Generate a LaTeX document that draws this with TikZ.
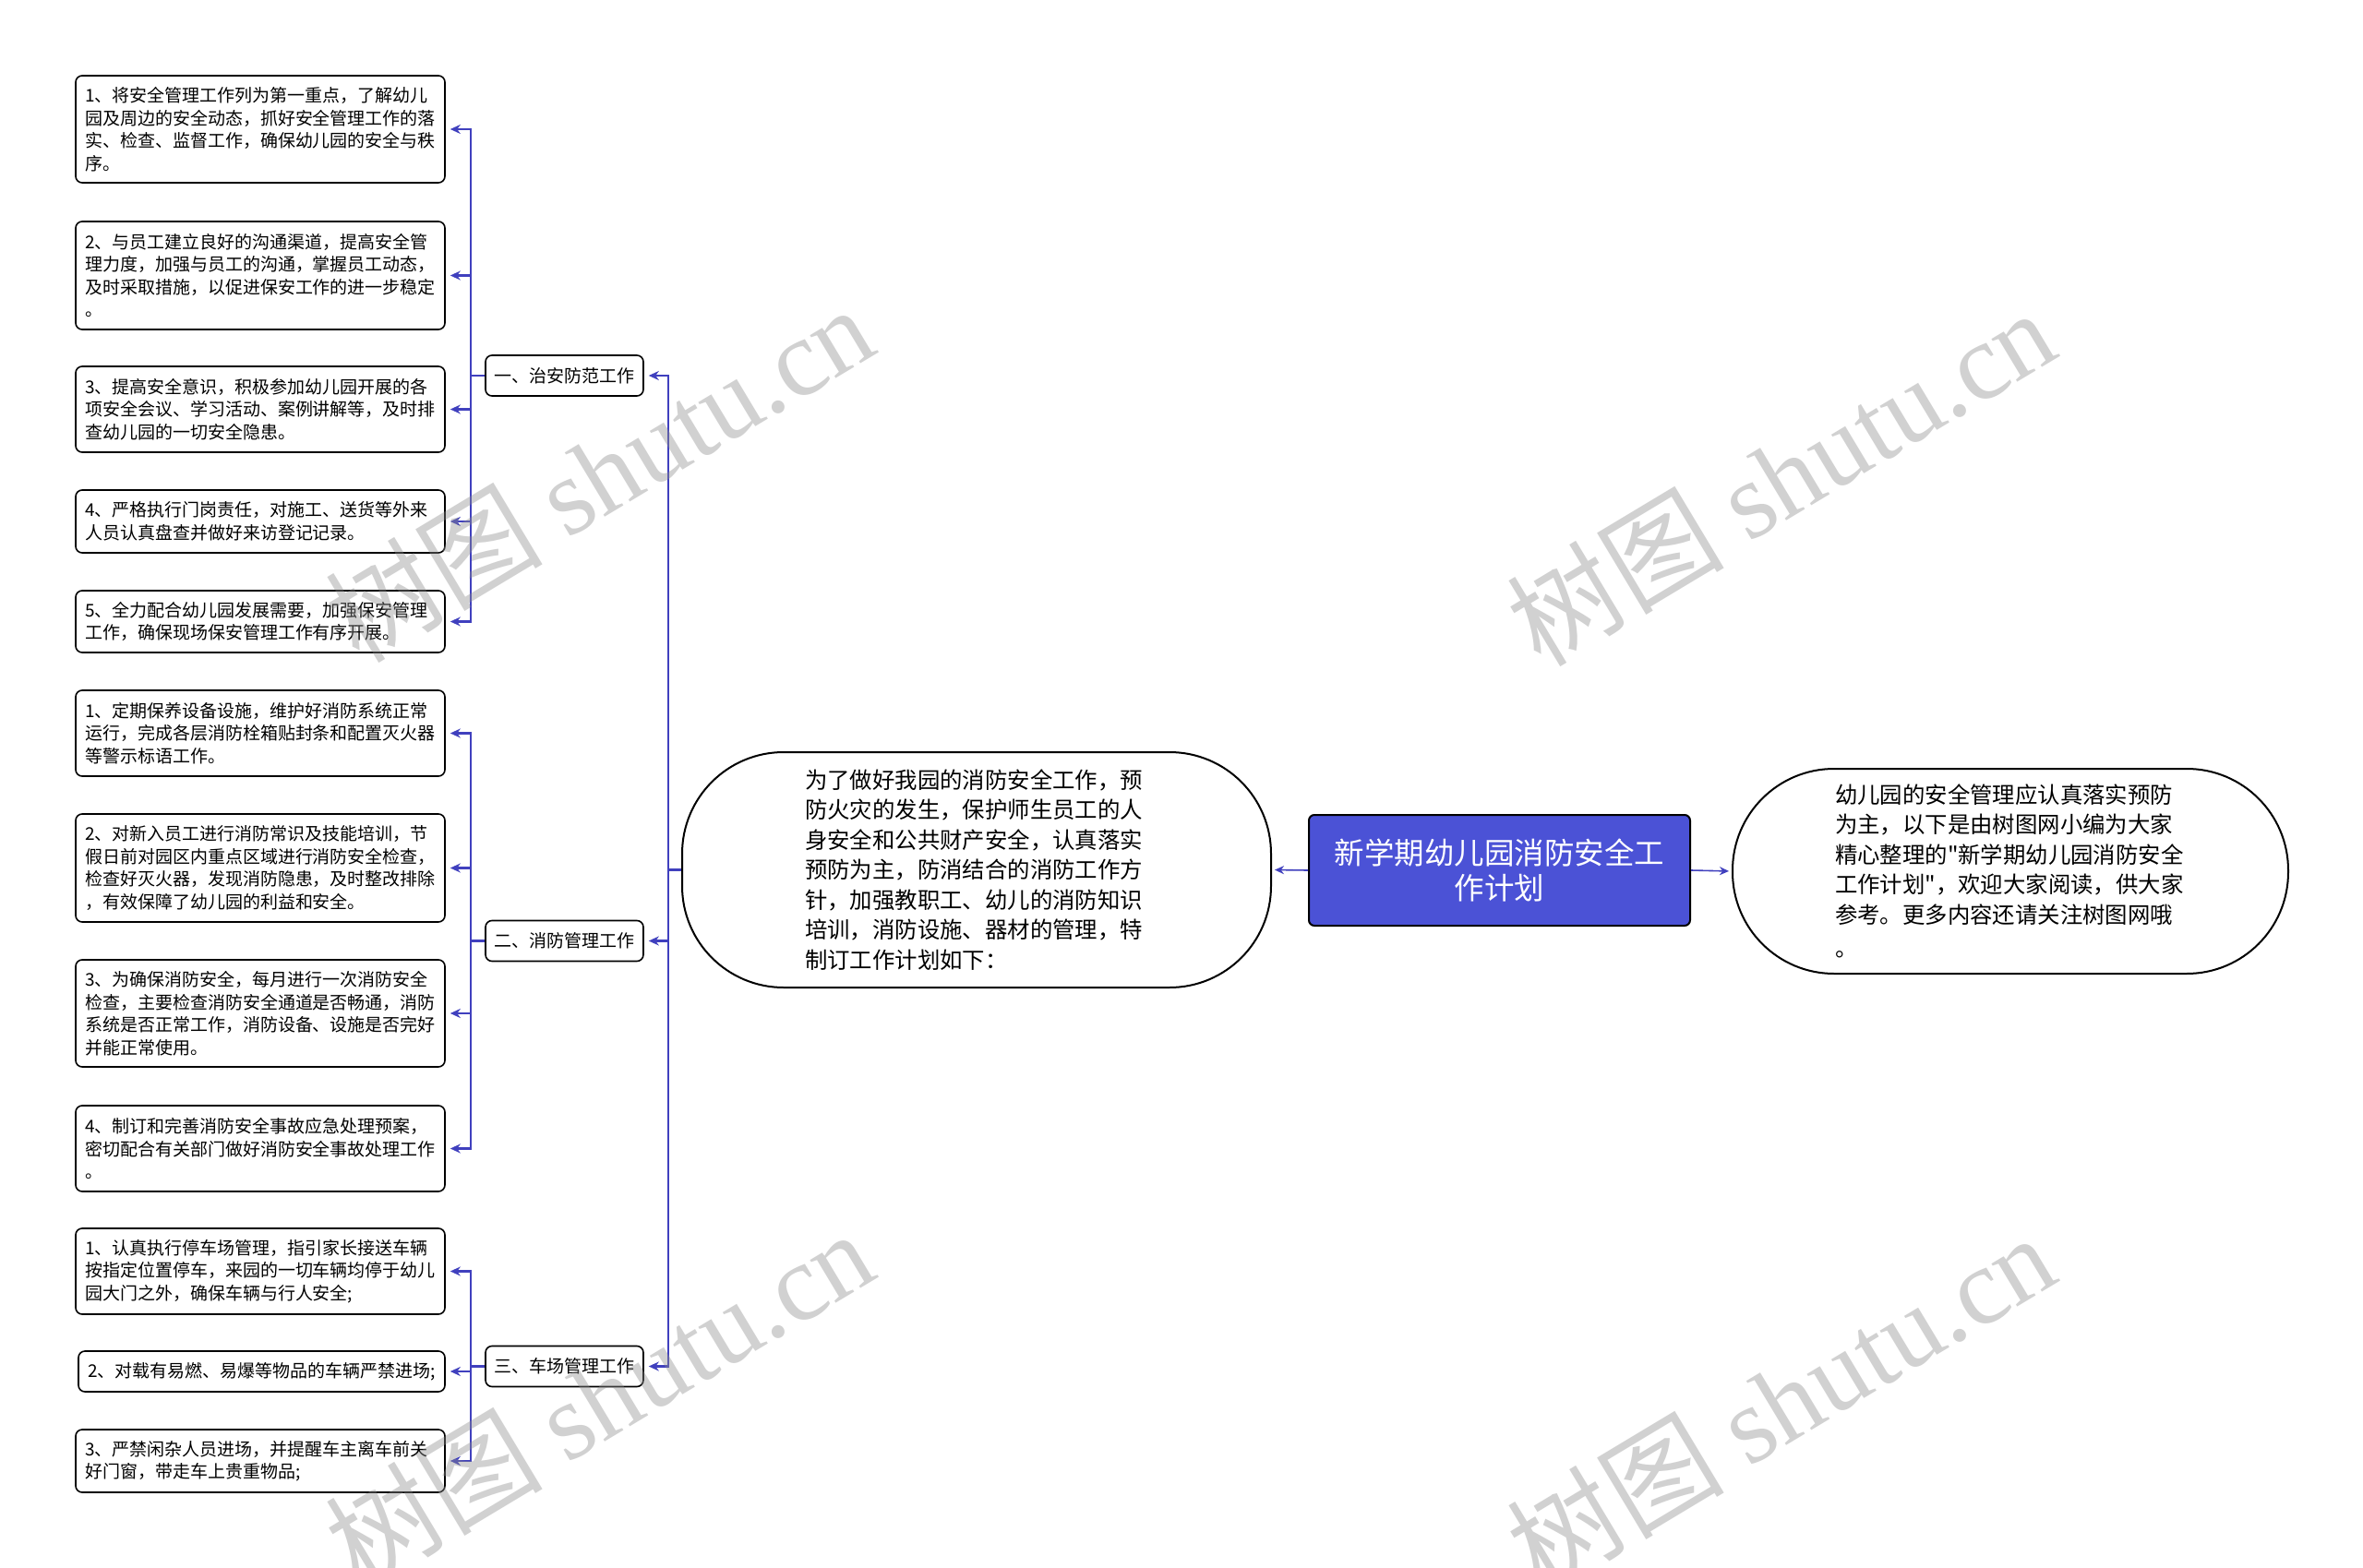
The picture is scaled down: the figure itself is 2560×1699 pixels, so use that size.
\documentclass[tikz,border=0pt]{standalone}
\usepackage{fontspec}
\setmainfont{Noto Sans CJK SC}[Ligatures=TeXOff]
\newfontfamily\wmlatin{Liberation Serif}
\newfontfamily\wmcjk{Noto Sans CJK SC}
\usetikzlibrary{arrows.meta}
\definecolor{connblue}{RGB}{64,64,190}
\definecolor{rootblue}{RGB}{75,82,214}
\tikzset{
  leaf/.style={draw=black, line width=1.6pt, rounded corners=7pt, fill=white,
    text width=380pt, align=left, inner xsep=10pt, inner ysep=0pt,
    font=\fontsize{19pt}{24.5pt}\selectfont, anchor=center},
  branch/.style={draw=black, line width=1.6pt, rounded corners=7pt, fill=white,
    minimum width=171pt, minimum height=44pt, inner sep=0pt,
    font=\fontsize{19pt}{24.5pt}\selectfont},
  bubble/.style={draw=black, line width=2pt, rounded corners=110pt, fill=white,
    text width=372pt, align=left, inner sep=0pt,
    font=\fontsize{24.4pt}{32.5pt}\selectfont},
  rootbox/.style={draw=black, line width=2pt, rounded corners=6pt, fill=rootblue,
    text=white, align=center, minimum width=413pt, minimum height=120pt, inner sep=0pt,
    font=\fontsize{32.5pt}{38pt}\selectfont},
  link/.style={draw=connblue, line width=2.2pt},
  arr/.style={link, -{Stealth[length=11pt,width=10pt]}, shorten >=5pt},
  rarr/.style={draw=connblue, line width=1.6pt, -{Stealth[length=10pt,width=9pt]}, shorten >=3pt},
  wm/.style={rotate=31, text=black!45, text opacity=0.4, inner sep=0pt,
    font=\fontsize{118pt}{118pt}\selectfont}
}
\begin{document}
\begin{tikzpicture}[x=1pt,y=-1pt]
\fill[white] (0,0) rectangle (2560,1699);
\useasboundingbox (0,0) rectangle (2560,1699);

% root and top-level nodes
\node[rootbox] (root) at (1624.5,943) {新学期幼儿园消防安全工\\作计划};
\node[bubble, minimum width=638pt, minimum height=255pt] (intro) at (1058,942.5)
 {为了做好我园的消防安全工作，预\\防火灾的发生，保护师生员工的人\\身安全和公共财产安全，认真落实\\预防为主，防消结合的消防工作方\\针，加强教职工、幼儿的消防知识\\培训，消防设施、器材的管理，特\\制订工作计划如下：};
\node[bubble, minimum width=602pt, minimum height=222pt, text width=380pt] (desc) at (2178,944)
 {幼儿园的安全管理应认真落实预防\\为主，以下是由树图网小编为大家\\精心整理的"新学期幼儿园消防安全\\工作计划"，欢迎大家阅读，供大家\\参考。更多内容还请关注树图网哦\\[4pt]。};

% branch nodes
\node[branch] (b1) at (611.5,407) {一、治安防范工作};
\node[branch] (b2) at (611.5,1019.5) {二、消防管理工作};
\node[branch] (b3) at (611.5,1480.5) {三、车场管理工作};

% group 1 leaves
\node[leaf, minimum height=116pt] (l11) at (282,140) {1、将安全管理工作列为第一重点，了解幼儿\\园及周边的安全动态，抓好安全管理工作的落\\实、检查、监督工作，确保幼儿园的安全与秩\\序。};
\node[leaf, minimum height=117pt] (l12) at (282,298.5) {2、与员工建立良好的沟通渠道，提高安全管\\理力度，加强与员工的沟通，掌握员工动态，\\及时采取措施，以促进保安工作的进一步稳定\\。};
\node[leaf, minimum height=93pt] (l13) at (282,443.5) {3、提高安全意识，积极参加幼儿园开展的各\\项安全会议、学习活动、案例讲解等，及时排\\查幼儿园的一切安全隐患。};
\node[leaf, minimum height=68pt] (l14) at (282,565) {4、严格执行门岗责任，对施工、送货等外来\\人员认真盘查并做好来访登记记录。};
\node[leaf, minimum height=67pt] (l15) at (282,673.5) {5、全力配合幼儿园发展需要，加强保安管理\\工作，确保现场保安管理工作有序开展。};

% group 2 leaves
\node[leaf, minimum height=93pt] (l21) at (282,794.5) {1、定期保养设备设施，维护好消防系统正常\\运行，完成各层消防栓箱贴封条和配置灭火器\\等警示标语工作。};
\node[leaf, minimum height=117pt] (l22) at (282,940.5) {2、对新入员工进行消防常识及技能培训，节\\假日前对园区内重点区域进行消防安全检查，\\检查好灭火器，发现消防隐患，及时整改排除\\，有效保障了幼儿园的利益和安全。};
\node[leaf, minimum height=116pt] (l23) at (282,1098) {3、为确保消防安全，每月进行一次消防安全\\检查，主要检查消防安全通道是否畅通，消防\\系统是否正常工作，消防设备、设施是否完好\\并能正常使用。};
\node[leaf, minimum height=93pt] (l24) at (282,1244.5) {4、制订和完善消防安全事故应急处理预案，\\密切配合有关部门做好消防安全事故处理工作\\。};

% group 3 leaves
\node[leaf, minimum height=93pt] (l31) at (282,1377.5) {1、认真执行停车场管理，指引家长接送车辆\\按指定位置停车，来园的一切车辆均停于幼儿\\园大门之外，确保车辆与行人安全;};
\node[leaf, minimum height=44pt, text width=377pt] (l32) at (283.5,1486) {2、对载有易燃、易爆等物品的车辆严禁进场;};
\node[leaf, minimum height=68pt] (l33) at (282,1583) {3、严禁闲杂人员进场，并提醒车主离车前关\\好门窗，带走车上贵重物品;};

% connectors
\draw[rarr] (root.west) -- (intro.east);
\draw[rarr] (root.east) -- (desc.west);

\coordinate (gm) at (724,942.5);
\draw[link] (intro.west) -- (gm);
\draw[arr] (gm) |- (b1.east);
\draw[arr] (gm) |- (b2.east);
\draw[arr] (gm) |- (b3.east);

\coordinate (g1) at (510,407);
\draw[link] (b1.west) -- (g1);
\foreach \n in {l11,l12,l13,l14,l15} \draw[arr] (g1) |- (\n.east);

\coordinate (g2) at (510,1019.5);
\draw[link] (b2.west) -- (g2);
\foreach \n in {l21,l22,l23,l24} \draw[arr] (g2) |- (\n.east);

\coordinate (g3) at (510,1480.5);
\draw[link] (b3.west) -- (g3);
\foreach \n in {l31,l32,l33} \draw[arr] (g3) |- (\n.east);

% watermarks
\node[wm] (wm1) at (649,512) {\wmcjk 树图 \wmlatin shutu.cn};
\node[wm] (wm2) at (1929,516) {\wmcjk 树图 \wmlatin shutu.cn};
\node[wm] (wm3) at (649,1514) {\wmcjk 树图 \wmlatin shutu.cn};
\node[wm] (wm4) at (1929,1518) {\wmcjk 树图 \wmlatin shutu.cn};
\end{tikzpicture}
\end{document}
